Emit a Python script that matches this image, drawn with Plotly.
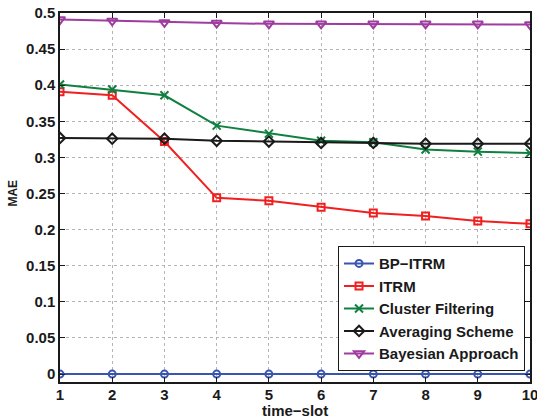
import plotly.graph_objects as go

time_slots = [1, 2, 3, 4, 5, 6, 7, 8, 9, 10]
bp_itrm = [0, 0, 0, 0, 0, 0, 0, 0, 0, 0]
itrm = [0.391, 0.386, 0.322, 0.244, 0.240, 0.231, 0.223, 0.219, 0.212, 0.208]
cluster = [0.401, 0.394, 0.386, 0.344, 0.333, 0.323, 0.321, 0.311, 0.308, 0.306]
averaging = [0.327, 0.326, 0.326, 0.323, 0.322, 0.320, 0.320, 0.319, 0.319, 0.319]
bayesian = [0.491, 0.489, 0.487, 0.486, 0.485, 0.485, 0.485, 0.485, 0.485, 0.484]
y_ticks = [0, 0.05, 0.1, 0.15, 0.2, 0.25, 0.3, 0.35, 0.4, 0.45, 0.5]
y_tick_labels = ["0", "0.05", "0.1", "0.15", "0.2", "0.25", "0.3", "0.35", "0.4", "0.45", "0.5"]

series = [
    ("BP\u2212ITRM", bp_itrm, "#3a55b0", "circle-open", 7),
    ("ITRM", itrm, "#f02020", "square-open", 7),
    ("Cluster Filtering", cluster, "#108040", "x-thin-open", 8),
    ("Averaging Scheme", averaging, "#1a1a1a", "diamond-open", 8),
    ("Bayesian Approach", bayesian, "#a03ca0", "triangle-down-open", 9),
]

FAM = "Liberation Sans, Arial, sans-serif"

fig = go.Figure()
for name, ys, color, sym, size in series:
    fig.add_trace(go.Scatter(
        x=time_slots, y=ys, name=name, mode="lines+markers",
        line=dict(color=color, width=2),
        marker=dict(symbol=sym, size=size, color=color, line=dict(color=color, width=2)),
    ))

axis_common = dict(
    showline=True, linecolor="#1a1a1a", linewidth=1.5, mirror="ticks",
    ticks="inside", ticklen=5, tickcolor="#1a1a1a",
    showgrid=True, gridcolor="#b4b4b4", griddash="dot", gridwidth=1,
    zeroline=False, automargin=False, ticklabeloverflow="allow",
    tickfont=dict(family=FAM, size=15, color="#1a1a1a", weight="bold"),
)

fig.update_layout(
    width=537, height=420,
    paper_bgcolor="white", plot_bgcolor="white",
    margin=dict(l=60, r=7, t=13, b=38),
    font=dict(family=FAM, size=14, color="#1a1a1a"),
    xaxis=dict(range=[1, 10], tickvals=time_slots, ticklabelstandoff=-2, **axis_common),
    yaxis=dict(range=[-0.011, 0.5], tickvals=y_ticks, ticktext=y_tick_labels, **axis_common),
    legend=dict(x=0.989, y=0.3686, xanchor="right", yanchor="top",
                bgcolor="white", bordercolor="#1a1a1a", borderwidth=1.2,
                font=dict(family=FAM, size=15, color="#1a1a1a", weight="bold"),
                tracegroupgap=0, itemwidth=30),
    showlegend=True,
    annotations=[
        dict(text="<b>time\u2212slot</b>", xref="paper", yref="paper", x=0.5, y=-0.076,
             xanchor="center", yanchor="middle", showarrow=False,
             font=dict(family=FAM, size=15, color="#1a1a1a")),
        dict(text="<b>MAE</b>", xref="paper", yref="paper", x=-0.0989, y=0.512,
             xanchor="center", yanchor="middle", showarrow=False, textangle=-90,
             font=dict(family=FAM, size=12, color="#1a1a1a")),
    ],
)

fig.write_html("out.html", config={"displayModeBar": False},
               post_script="document.body.style.margin='0';document.body.style.overflow='hidden';")
